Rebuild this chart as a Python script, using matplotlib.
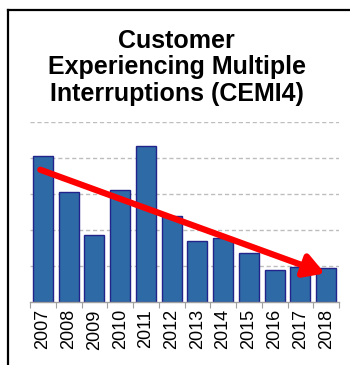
import matplotlib
matplotlib.use("Agg")
import matplotlib.pyplot as plt
from matplotlib.lines import Line2D

plt.rcParams['font.family'] = ['Liberation Sans', 'DejaVu Sans']

years = ['2007', '2008', '2009', '2010', '2011', '2012',
         '2013', '2014', '2015', '2016', '2017', '2018']
values = [4.04, 3.05, 1.85, 3.11, 4.33, 2.38, 1.69, 1.77, 1.36, 0.89, 0.97, 0.95]
trend_start = (-0.1, 3.67)
trend_end = (10.95, 0.80)
title = "Customer\nExperiencing Multiple\nInterruptions (CEMI4)"

fig = plt.figure(figsize=(3.5, 3.65), dpi=100)
W, H = 350, 365
ax = fig.add_axes([30 / W, 1 - 302.3 / H, 309 / W, (302.3 - 121.7) / H])

x = list(range(len(years)))
ax.bar(x, values, width=0.78, color='#2E6BA6', edgecolor='#23238C', linewidth=1.0, zorder=2)
ax.set_xlim(-0.5, len(years) - 0.5)
ax.set_ylim(0, 5)
ax.set_yticks([1, 2, 3, 4, 5])
ax.yaxis.grid(True, color='#BDBDBD', linestyle=(0, (3, 2)), linewidth=1.0, zorder=0)
ax.tick_params(axis='y', left=False, labelleft=False)
for s in ['left', 'right', 'top']:
    ax.spines[s].set_visible(False)
ax.spines['bottom'].set_color('#A0A0A0')
ax.spines['bottom'].set_linewidth(1.0)
ax.set_xticks([i - 0.5 for i in range(len(years) + 1)], minor=False)
ax.set_xticklabels([])
ax.tick_params(axis='x', which='major', length=4, color='#A0A0A0', direction='out')
ax.set_xticks(x, minor=True)
ax.set_xticklabels(years, minor=True, rotation=90, fontsize=13)
ax.tick_params(axis='x', which='minor', length=0, pad=5)
ax.set_axisbelow(True)

ax.annotate('', xy=trend_end, xytext=trend_start,
            arrowprops=dict(arrowstyle='-|>,head_length=1.2,head_width=0.7',
                            color='#FF0000', lw=4.5, shrinkA=0, shrinkB=0),
            zorder=5)

fig.text(0.505, 1 - 29 / H, title, ha='center', va='top', fontsize=18,
         fontweight='bold', linespacing=1.13)

# frame
fig.add_artist(Line2D([8 / W, 8 / W], [0, 1 - 10 / H], color='black', lw=1.6,
                      transform=fig.transFigure))
fig.add_artist(Line2D([8 / W, 1], [1 - 10 / H, 1 - 10 / H], color='black', lw=1.6,
                      transform=fig.transFigure))

fig.savefig('out.png', dpi=100)
